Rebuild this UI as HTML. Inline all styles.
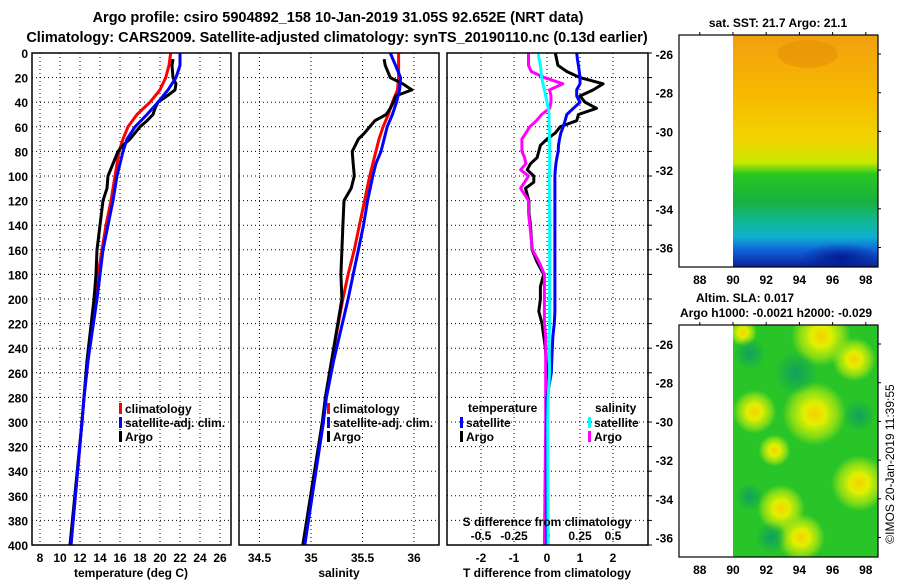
<!DOCTYPE html>
<html><head><meta charset="utf-8"><style>
html,body{margin:0;padding:0;background:#fff;}
svg{display:block;font-family:"Liberation Sans",sans-serif;font-weight:bold;}
</style></head><body>
<svg id="c" width="900" height="580" viewBox="0 0 900 580" xmlns="http://www.w3.org/2000/svg">
<defs>
<linearGradient id="sstg" x1="0" y1="0" x2="0" y2="1">
<stop offset="0" stop-color="#f0a010"/><stop offset="0.25" stop-color="#f7b800"/>
<stop offset="0.45" stop-color="#f2d400"/><stop offset="0.55" stop-color="#c8e800"/>
<stop offset="0.6" stop-color="#28c820"/><stop offset="0.72" stop-color="#18b040"/>
<stop offset="0.8" stop-color="#10b890"/><stop offset="0.87" stop-color="#10b0d0"/>
<stop offset="0.93" stop-color="#1060d8"/><stop offset="1" stop-color="#0a2098"/>
</linearGradient>
<radialGradient id="yb"><stop offset="0" stop-color="#f8d000"/><stop offset="0.35" stop-color="#e0f000"/><stop offset="0.7" stop-color="#b0e810" stop-opacity="0.7"/><stop offset="1" stop-color="#b0e810" stop-opacity="0"/></radialGradient>
<radialGradient id="tb"><stop offset="0" stop-color="#10a060"/><stop offset="1" stop-color="#10a060" stop-opacity="0"/></radialGradient>
<radialGradient id="db"><stop offset="0" stop-color="#000880" stop-opacity="0.7"/><stop offset="1" stop-color="#000880" stop-opacity="0"/></radialGradient>
<clipPath id="clipSst"><rect x="733" y="35" width="145" height="232"/></clipPath>
<clipPath id="clipSla"><rect x="733" y="325" width="145" height="232"/></clipPath>
</defs>
<text x="338" y="22" font-size="14.5" text-anchor="middle">Argo profile: csiro 5904892_158 10-Jan-2019 31.05S 92.652E (NRT data)</text>
<text x="337" y="42" font-size="14.5" text-anchor="middle">Climatology: CARS2009. Satellite-adjusted climatology: synTS_20190110.nc (0.13d earlier)</text>
<g id="g"></g>
</svg>
<script>
const depths=[0,10,20,30,40,50,60,70,80,90,100,120,140,160,180,200,250,280,300,400];
const tClim=[21.07,20.9,20.57,20.0,19.0,17.7,16.8,16.3,15.9,15.7,15.5,15.1,14.6,14.2,13.8,13.6,12.8,12.4,12.2,11.1];
const tSat=[22.0,22.0,21.6,20.8,19.8,18.7,17.5,16.7,16.3,16.0,15.7,15.3,14.8,14.3,14.0,13.7,12.8,12.4,12.2,11.1];
const argoDepths=[5,10,20,25,30,35,40,45,50,55,60,65,70,75,80,90,100,110,120,140,160,180,200,250,280,300,400];
const tArgo=[21.3,21.2,21.3,21.6,21.5,20.7,19.8,19.5,19.3,18.7,18.0,17.5,17.0,16.3,15.8,15.3,14.8,14.7,14.3,14.0,13.7,13.6,13.4,12.7,12.4,12.2,11.0];
const sClim=[35.85,35.85,35.85,35.84,35.79,35.75,35.70,35.66,35.63,35.60,35.57,35.52,35.47,35.42,35.36,35.31,35.2,35.14,35.12,34.93];
const sSat=[35.77,35.82,35.87,35.86,35.83,35.79,35.74,35.71,35.68,35.63,35.60,35.55,35.51,35.46,35.41,35.36,35.22,35.15,35.12,34.94];
const sArgo=[35.71,35.72,35.77,35.89,35.98,35.82,35.80,35.77,35.73,35.62,35.57,35.52,35.46,35.43,35.40,35.41,35.42,35.39,35.32,35.31,35.30,35.29,35.30,35.2,35.14,35.11,34.92];
const dDepths=[0,5,10,15,20,25,30,35,40,45,50,55,60,65,70,75,80,85,90,95,100,105,110,120,130,140,160,170,180,190,200,210,220,230,240,260,280,300,400];
const dtSat=[0.9,0.92,0.95,0.98,1.0,1.0,0.9,0.9,1.0,0.8,0.6,0.55,0.49,0.42,0.38,0.35,0.34,0.3,0.27,0.25,0.24,0.24,0.24,0.24,0.24,0.24,0.24,0.24,0.24,0.24,0.24,0.24,0.22,0.18,0.16,0.13,0.0,0.0,0.0];
const dtArgo=[0.25,0.29,0.33,0.6,1.0,1.7,1.4,1.0,1.15,1.5,0.95,0.9,0.4,0.25,0.0,-0.2,-0.25,-0.3,-0.5,-0.6,-0.4,-0.4,-0.65,-0.55,-0.55,-0.5,-0.45,-0.3,-0.1,-0.2,-0.2,-0.25,-0.15,-0.1,-0.05,0.0,-0.02,-0.02,-0.02];
const dsSat=[-0.066,-0.06,-0.05,-0.045,-0.04,-0.03,-0.02,-0.01,0.0,0.01,0.015,0.015,0.017,0.018,0.018,0.02,0.02,0.02,0.02,0.02,0.017,0.017,0.018,0.018,0.018,0.02,0.02,0.02,0.02,0.02,0.02,0.02,0.02,0.017,0.017,0.02,0.008,0.005,0.008];
const dsArgo=[-0.14,-0.14,-0.14,-0.12,-0.02,0.12,0.02,0.03,0.03,0.02,-0.04,-0.08,-0.13,-0.16,-0.19,-0.19,-0.19,-0.17,-0.16,-0.2,-0.14,-0.17,-0.2,-0.14,-0.14,-0.13,-0.11,-0.06,-0.02,-0.02,-0.02,-0.02,-0.02,-0.01,-0.01,-0.01,-0.01,-0.01,-0.02];
const depthTicks=[0,20,40,60,80,100,120,140,160,180,200,220,240,260,280,300,320,340,360,380,400];
const tTicks=[8,10,12,14,16,18,20,22,24,26];
const sTicks=[34.5,35,35.5,36];
const dtTicks=[-2,-1,0,1,2];
const dsTicks=[-0.5,-0.25,0,0.25,0.5];
const dsTickLabels=["-0.5","-0.25","0","0.25","0.5"];
const lonTicks=[88,90,92,94,96,98];
const latTicks=[-26,-28,-30,-32,-34,-36];

const NS="http://www.w3.org/2000/svg";
const G=document.getElementById('g');
function mk(tag,at,txt,parent){const e=document.createElementNS(NS,tag);for(const k in at)e.setAttribute(k,at[k]);if(txt!==undefined&&txt!==null)e.textContent=txt;(parent||G).appendChild(e);return e;}
const pTop=53,pBot=545;
const yD=d=>pTop+(d/400)*(pBot-pTop);
const xT=t=>40+(t-8)*10;
const xS=s=>311+(s-35)*103;
const xDT=t=>547+t*33;
const xDS=s=>547+s*132;
const panels=[[32,231],[239,439],[447,648]];

panels.forEach((p,i)=>{
  depthTicks.forEach(d=>{if(d>0&&d<400){const l=mk('line',{x1:p[0],x2:p[1],y1:yD(d),y2:yD(d),stroke:'#000','stroke-width':1,'stroke-dasharray':'1,3'});
  
  }});
});
tTicks.forEach(t=>{const l=mk('line',{x1:xT(t),x2:xT(t),y1:pTop,y2:pBot,stroke:'#000','stroke-dasharray':'1,3'});


const tx=mk('text',{x:xT(t),y:562,'font-size':12,'text-anchor':'middle'},t);

});
sTicks.forEach(s=>{const l=mk('line',{x1:xS(s),x2:xS(s),y1:pTop,y2:pBot,stroke:'#000','stroke-dasharray':'1,3'});


const tx=mk('text',{x:xS(s),y:562,'font-size':12,'text-anchor':'middle'},s);

});
dtTicks.forEach(s=>{const l=mk('line',{x1:xDT(s),x2:xDT(s),y1:pTop,y2:pBot,stroke:'#000','stroke-dasharray':'1,3'});


const tx=mk('text',{x:xDT(s),y:562,'font-size':12,'text-anchor':'middle'},s);

});
dsTicks.forEach((s,i)=>{const tx=mk('text',{x:xDS(s),y:540,'font-size':12,'text-anchor':'middle'},dsTickLabels[i]);

});
depthTicks.forEach(d=>{const tx=mk('text',{x:28,y:yD(d)+5,'font-size':12,'text-anchor':'end'},d);


const tk=mk('line',{x1:648,x2:652,y1:yD(d),y2:yD(d),stroke:'#000'});

});

function line(ds,vs,fx,col,name){
  const pts=ds.map((d,i)=>fx(vs[i]).toFixed(1)+','+yD(d).toFixed(1)).join(' ');
  const e=mk('polyline',{points:pts,fill:'none',stroke:col,'stroke-width':3,'stroke-linejoin':'round'});
  
  
}
line(depths,tClim,xT,'#ff0000','temp-climatology-line');
line(argoDepths,tArgo,xT,'#000000','temp-argo-line');
line(depths,tSat,xT,'#0000ff','temp-satellite-line');
line(depths,sClim,xS,'#ff0000','sal-climatology-line');
line(argoDepths,sArgo,xS,'#000000','sal-argo-line');
line(depths,sSat,xS,'#0000ff','sal-satellite-line');
line(dDepths,dtArgo,xDT,'#000000','tdiff-argo-line');
line(dDepths,dsArgo,xDS,'#ff00ff','sdiff-argo-line');
line(dDepths,dtSat,xDT,'#0000ff','tdiff-satellite-line');
line(dDepths,dsSat,xDS,'#00ffff','sdiff-satellite-line');

panels.forEach((p,i)=>{const r=mk('rect',{x:p[0],y:pTop,width:p[1]-p[0],height:pBot-pTop,fill:'none',stroke:'#000','stroke-width':1.5});

});

function leg(x,y,col,txt,name){const m=mk('rect',{x:x,y:y-9,width:3,height:11,fill:col});


const t=mk('text',{x:x+6,y:y+1,'font-size':12},txt);

}
leg(119,412,'#ff0000','climatology','legend-climatology');
leg(119,426,'#0000ff','satellite-adj. clim.','legend-satellite');
leg(119,440,'#000','Argo','legend-argo');
leg(327,412,'#ff0000','climatology','legend-sal-climatology');
leg(327,426,'#0000ff','satellite-adj. clim.','legend-sal-satellite');
leg(327,440,'#000','Argo','legend-sal-argo');
let h=mk('text',{x:468,y:412,'font-size':12},'temperature');


h=mk('text',{x:595,y:412,'font-size':12},'salinity');


leg(460,426,'#0000ff','satellite','legend-t-satellite');
leg(460,440,'#000','Argo','legend-t-argo');
leg(588,426,'#00ffff','satellite','legend-s-satellite');
leg(588,440,'#ff00ff','Argo','legend-s-argo');

let a=mk('text',{x:131,y:577,'font-size':12,'text-anchor':'middle'},'temperature (deg C)');


a=mk('text',{x:339,y:577,'font-size':12,'text-anchor':'middle'},'salinity');


a=mk('text',{x:547,y:577,'font-size':12,'text-anchor':'middle'},'T difference from climatology');


a=mk('text',{x:547,y:526,'font-size':12,'text-anchor':'middle'},'S difference from climatology');



const xL=lo=>733+(lo-90)*16.6;
function map(y0,y1,yLat,kind){
  mk('rect',{x:679,y:y0,width:199,height:y1-y0,fill:'#fff'});
  const cg=mk('g',{'clip-path':kind==='sst'?'url(#clipSst)':'url(#clipSla)'});
  
  
  if(kind==='sst'){
    const r=mk('rect',{x:733,y:y0,width:145,height:y1-y0,fill:'url(#sstg)'},null,cg);
    
    
    const e=mk('ellipse',{cx:xL(96.5),cy:yLat(-36.5),rx:40,ry:14,fill:'url(#db)'},null,cg);
    
    
    const o=mk('ellipse',{cx:xL(94.5),cy:yLat(-26),rx:30,ry:14,fill:'#e08000',opacity:0.35},null,cg);
    
    
  } else {
    const r=mk('rect',{x:733,y:y0,width:145,height:y1-y0,fill:'#28c428'},null,cg);
    
    
    [[95.3,-25.6,30],[97.3,-26.8,22],[91.3,-29.5,22],[94.9,-29.6,32],[92.9,-34.5,24],[94.1,-36,24],[97.6,-33.2,28],[90.6,-25.4,14],[92.5,-31.5,16]].forEach(b=>{
      const e=mk('circle',{cx:xL(b[0]),cy:yLat(b[1]),r:b[2],fill:'url(#yb)'},null,cg);
      
      });
    [[93.8,-27.5,22],[97.6,-29.7,16],[91,-33.9,14],[92.3,-36,16],[91,-26.5,16]].forEach(b=>{
      const e=mk('circle',{cx:xL(b[0]),cy:yLat(b[1]),r:b[2],fill:'url(#tb)'},null,cg);
      
      });
  }
  const fr=mk('rect',{x:679,y:y0,width:199,height:y1-y0,fill:'none',stroke:'#000','stroke-width':1.2});
  
  
  latTicks.forEach(l=>{const t=mk('text',{x:673,y:yLat(l)+5,'font-size':12,'text-anchor':'end'},l);
    
    
    mk('line',{x1:878,x2:881,y1:yLat(l),y2:yLat(l),stroke:'#000'});});
  lonTicks.forEach(l=>{const t=mk('text',{x:xL(l),y:y1+17,'font-size':12,'text-anchor':'middle'},l);
    
    
    mk('line',{x1:xL(l),x2:xL(l),y1:y0-3,y2:y0,stroke:'#000'});});
}
map(35,267,l=>54+(-26-l)*19.35,'sst');
map(325,557,l=>344+(-26-l)*19.35,'sla');
let mt=mk('text',{x:778,y:27,'font-size':12,'text-anchor':'middle'},'sat. SST: 21.7 Argo: 21.1');


mt=mk('text',{x:745,y:302,'font-size':12,'text-anchor':'middle'},'Altim. SLA: 0.017');


mt=mk('text',{x:776,y:317,'font-size':12,'text-anchor':'middle'},'Argo h1000: -0.0021 h2000: -0.029');


mt=mk('text',{x:0,y:0,'font-size':12,'font-weight':'normal','text-anchor':'middle',transform:'translate(894,464) rotate(-90)'},'©IMOS 20-Jan-2019 11:39:55');


</script>
</body></html>
